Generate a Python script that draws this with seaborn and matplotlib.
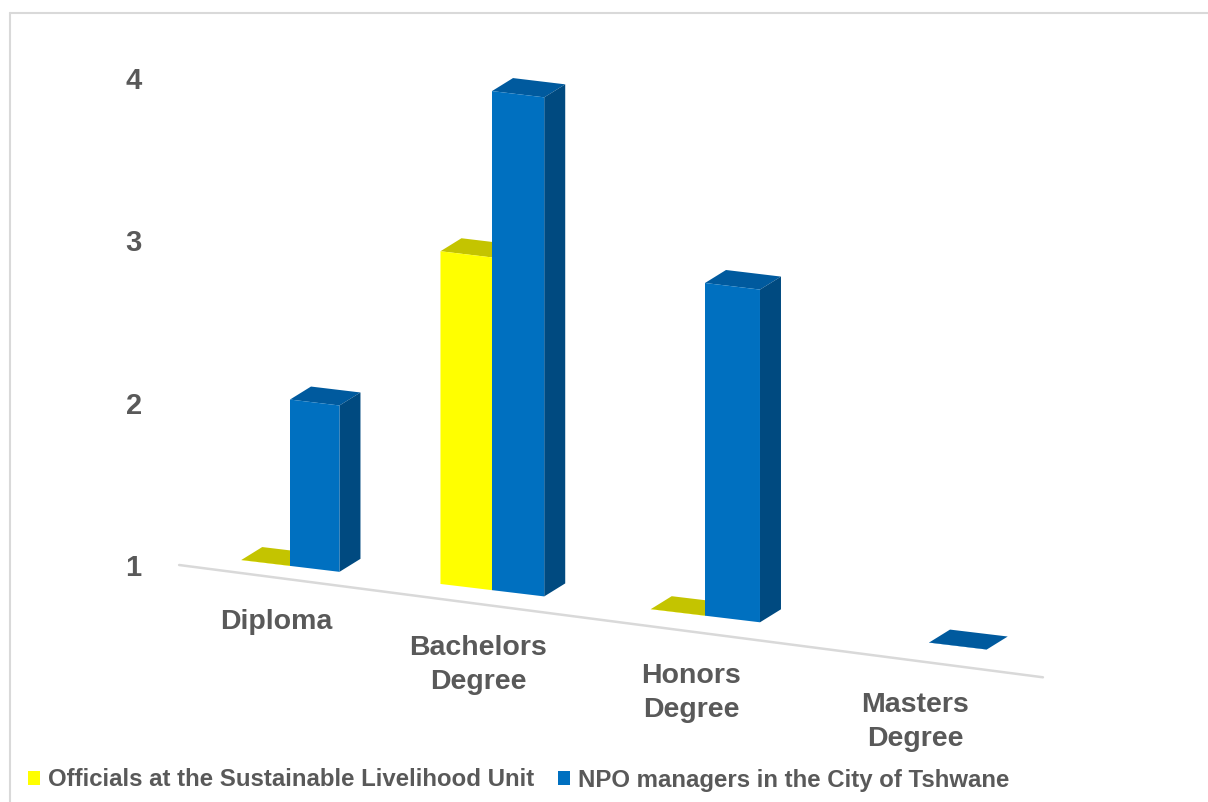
import matplotlib
matplotlib.use("Agg")
import numpy as np
import pandas as pd
import matplotlib.pyplot as plt
import seaborn as sns
from matplotlib.transforms import Affine2D, IdentityTransform
from matplotlib.patches import Polygon, Patch
from matplotlib.lines import Line2D

# ---------------- data ----------------
categories = ["Diploma", "Bachelors\nDegree", "Honors\nDegree", "Masters\nDegree"]
series = ["Officials at the Sustainable Livelihood Unit",
          "NPO managers in the City of Tshwane"]
officials = [1, 3, 1, 0]
npo_managers = [2, 4, 3, 1]
y_ticks = [1, 2, 3, 4]

# ---------------- style ----------------
front_colors = ["#FFFF00", "#0070C0"]
top_colors = ["#C4C400", "#005A9E"]
side_colors = ["#A8A800", "#004A80"]
text_color = "#595959"
grid_gray = "#D9D9D9"

sns.set_theme(style="white")
plt.rcParams["font.family"] = ["Liberation Sans", "DejaVu Sans"]

W, H = 1208, 802
fig = plt.figure(figsize=(W / 100, H / 100), dpi=100)
fig.patch.set_facecolor("white")

# perspective-like widening of the category axis
c = 0.028
def fwd(x):
    x = np.asarray(x, dtype=float)
    return x + c * x ** 2
def inv(y):
    y = np.asarray(y, dtype=float)
    return (-1 + np.sqrt(np.maximum(1 + 4 * c * y, 0))) / (2 * c)

px_per_cat = 196.5
x_origin = 276
x_left_px = x_origin + px_per_cat * float(fwd(-0.5))
x_right_px = x_origin + px_per_cat * float(fwd(3.5))
y_base_pic = 565
unit_px = 162.3
ymax = 4.3
ax = fig.add_axes([x_left_px / W, (H - y_base_pic) / H,
                   (x_right_px - x_left_px) / W, unit_px * (ymax - 1) / H])
ax.set_facecolor("none")

df = pd.DataFrame({
    "Qualification": categories * 2,
    "Group": [series[0]] * len(categories) + [series[1]] * len(categories),
    "Count": officials + npo_managers,
})

sns.barplot(data=df, x="Qualification", y="Count", hue="Group",
            order=categories, hue_order=series, palette=front_colors,
            width=0.5, saturation=1, errorbar=None, linewidth=0,
            legend=False, ax=ax)

ax.set_xscale("function", functions=(fwd, inv))
ax.set_xlim(-0.5, len(categories) - 0.5)
ax.set_ylim(1, ymax)
ax.autoscale(False)
ax.set_xticks([])
ax.set_yticks(y_ticks)
ax.set_yticklabels([str(v) for v in y_ticks])
ax.tick_params(axis="y", length=0, pad=27, labelsize=21, labelcolor=text_color)
for lab in ax.get_yticklabels():
    lab.set_fontweight("bold")
ax.set_xlabel("")
ax.set_ylabel("")
for sp in ax.spines.values():
    sp.set_visible(False)

# ---------------- pseudo 3-D transforms ----------------
def shear(s, x0):
    return Affine2D(np.array([[1.0, 0.0, 0.0], [-s, 1.0, s * x0], [0.0, 0.0, 1.0]]))

y1_disp = H - y_base_pic
floor_tf = ax.transData + shear(0.13, x_left_px)
bar_tf = (ax.transData
          + Affine2D().translate(0, -y1_disp).scale(1, 1.025).translate(14, y1_disp)
          + shear(0.12, x_left_px)
          + Affine2D().translate(0, 12.4))

clip_poly = Polygon([(-2, 1), (6, 1), (6, 50), (-2, 50)], closed=True,
                    transform=bar_tf)
depth = np.array([21.0, 13.0])
y_floor = ax.get_ylim()[0]

for k, cont in enumerate(ax.containers):
    for p in cont.patches:
        p.set_transform(bar_tf)
        p.set_clip_box(None)
        p.set_clip_path(clip_poly)
        p.set_zorder(2 + 2 * k)
        p.set_linewidth(0)
        x0 = p.get_x()
        w = p.get_width()
        top = p.get_y() + p.get_height()
        if top < y_floor:
            continue
        fl, fr, tr, tl = bar_tf.transform([(x0, y_floor), (x0 + w, y_floor),
                                           (x0 + w, top), (x0, top)])
        tface = Polygon([tl, tr, tr + depth, tl + depth], closed=True,
                        transform=IdentityTransform(), facecolor=top_colors[k],
                        edgecolor="none", zorder=1.9 + 2 * k, clip_on=False)
        ax.add_artist(tface)
        if top > y_floor:
            sface = Polygon([fr, tr, tr + depth, fr + depth], closed=True,
                            transform=IdentityTransform(), facecolor=side_colors[k],
                            edgecolor="none", zorder=1.9 + 2 * k, clip_on=False)
            ax.add_artist(sface)

# floor front edge
xl = ax.get_xlim()
floor_line = Line2D([xl[0], xl[1] + 0.05], [y_floor, y_floor], transform=floor_tf,
                    color=grid_gray, lw=1.8, zorder=1, clip_on=False)
ax.add_line(floor_line)

# category labels along the slanted floor
label_tf = floor_tf + Affine2D().translate(0, -31.5)
for i, cat in enumerate(categories):
    ax.text(i, y_floor, cat, transform=label_tf, ha="center", va="top",
            multialignment="center", linespacing=1.38, fontsize=20.5,
            fontweight="bold", color=text_color, zorder=10, clip_on=False)

# chart-area border (top and left edges visible)
fig.add_artist(Line2D([10 / W, 1.0], [1 - 13 / H, 1 - 13 / H],
                      transform=fig.transFigure, color=grid_gray, lw=1.5))
fig.add_artist(Line2D([10 / W, 10 / W], [0.0, 1 - 13 / H],
                      transform=fig.transFigure, color=grid_gray, lw=1.5))

# legend
handles = [Patch(facecolor=col, edgecolor="none") for col in front_colors]
fig.legend(handles=handles, labels=series, loc="center left",
           bbox_to_anchor=(28 / W, 1 - 780 / H), ncol=2, frameon=False,
           handlelength=0.52, handleheight=0.52, handletextpad=0.3,
           columnspacing=1.0, borderpad=0, borderaxespad=0,
           prop={"weight": "bold", "size": 17.3}, labelcolor=text_color)

fig.savefig("out.png", dpi=100)
